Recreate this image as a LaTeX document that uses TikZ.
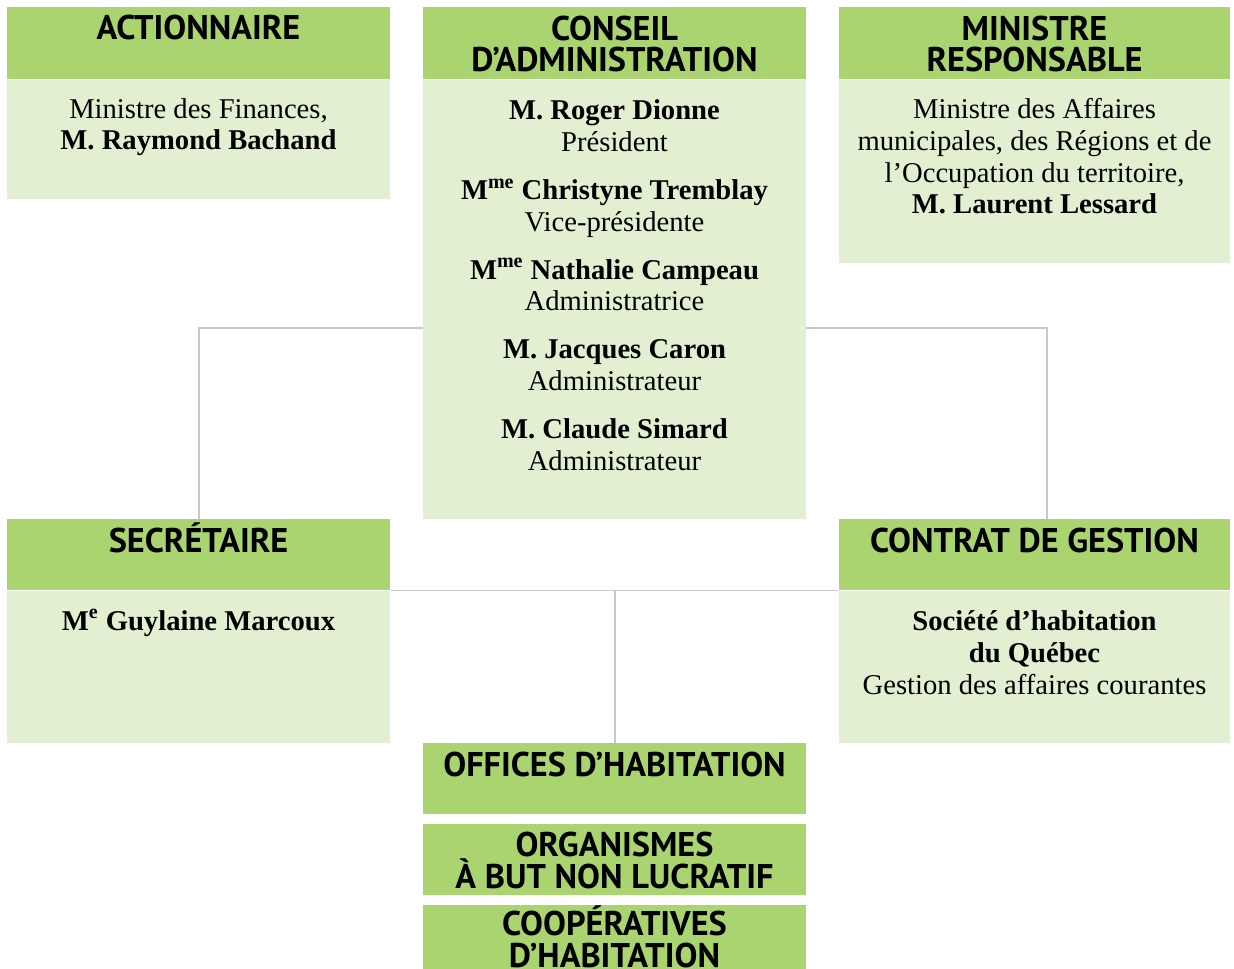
\documentclass[tikz,border=0pt]{standalone}
\usepackage{fontspec}
\setmainfont{Liberation Serif}
\newfontfamily\headfont{PT Sans}
\usetikzlibrary{positioning}
\definecolor{headgreen}{HTML}{AAD470}
\definecolor{bodygreen}{HTML}{E2F0D1}
\definecolor{linkgray}{HTML}{C8C8C8}

\begin{document}
\begin{tikzpicture}[x=0.02cm,y=-0.02cm, head/.style={rectangle,fill=headgreen,inner sep=0,anchor=north west,minimum width=7.66cm,minimum height=1.44cm}, body/.style={rectangle,fill=bodygreen,inner sep=0,minimum width=7.66cm}, title/.style={anchor=base,align=center,inner sep=0,font=\headfont\bfseries\fontsize{19.5}{18.1}\selectfont}, names/.style={anchor=base,align=center,inner sep=0,font=\fontsize{16.3}{18.1}\selectfont}, link/.style={draw=linkgray,line width=0.8pt}]
  \useasboundingbox (0,0) rectangle (1234,969);
  \node (act-h) [head] at (7,7) {};
  \node (act-b) [body,below=0pt of act-h,minimum height=2.38cm] {};
  \node (con-h) [head] at (423,7) {};
  \node (con-b) [body,below=0pt of con-h,minimum height=8.78cm] {};
  \node (min-h) [head,minimum width=7.82cm] at (839,7) {};
  \node (min-b) [body,below=0pt of min-h,minimum width=7.82cm,minimum height=3.66cm] {};
  \node (sec-h) [head,minimum height=1.42cm] at (7,519) {};
  \node (sec-b) [body,below=0pt of sec-h,minimum height=3.04cm] {};
  \node (ctr-h) [head,minimum width=7.82cm,minimum height=1.42cm] at (839,519) {};
  \node (ctr-b) [body,below=0pt of ctr-h,minimum width=7.82cm,minimum height=3.04cm] {};
  \node (off) [head,minimum height=1.42cm] at (423,743) {};
  \node (org) [head,anchor=north,minimum height=1.42cm,below=0.18cm of off] {};
  \node (coop) [head,anchor=north,minimum height=1.32cm,below=0.18cm of org] {};
  \coordinate (jl) at (423,328);
  \coordinate (jr) at (806,328);
  \coordinate (ctr-top) at (1047,519);
  \draw[link] (jl) -| (sec-h.north);
  \draw[link] (jr) -| (ctr-top);
  \draw[link] (sec-b.north east) -- (ctr-b.north west);
  \draw[link] (off.north |- sec-b.north) -- (off.north);
  % anchor=base sits on the last line
  \node (act-t) [title] at (198.5,40) {ACTIONNAIRE};
  \node (con-t) [title] at (614.5,72) {CONSEIL\\D’ADMINISTRATION};
  \node (min-t) [title] at (1034.5,72) {MINISTRE\\RESPONSABLE};
  \node (sec-t) [title] at (198.5,552) {SECRÉTAIRE};
  \node (ctr-t) [title] at (1034.5,552) {CONTRAT DE GESTION};
  \node (off-t) [title] at (614.5,776) {OFFICES D’HABITATION};
  \node (org-t) [title] at (614.5,888) {ORGANISMES\\À BUT NON LUCRATIF};
  \node (coop-t) [title] at (614.5,967) {COOPÉRATIVES\\D’HABITATION};
  \node (act-n) [names] at (198.5,150) {Ministre des Finances,\\\textbf{M. Raymond Bachand}};
  \node (con-n) [names] at (614.5,470) {\textbf{M. Roger Dionne}\\Président\\[0.32cm]
    \textbf{M\textsuperscript{me} Christyne Tremblay}\\Vice-présidente\\[0.32cm]
    \textbf{M\textsuperscript{me} Nathalie Campeau}\\Administratrice\\[0.32cm]
    \textbf{M. Jacques Caron}\\Administrateur\\[0.32cm]
    \textbf{M. Claude Simard}\\Administrateur};
  \node (min-n) [names] at (1034.5,214) {Ministre des Affaires\\municipales, des Régions et de\\l’Occupation du territoire,\\\textbf{M. Laurent Lessard}};
  \node (sec-n) [names] at (198.5,630) {\textbf{M\textsuperscript{e} Guylaine Marcoux}};
  \node (ctr-n) [names] at (1034.5,694) {\textbf{Société d’habitation}\\\textbf{du Québec}\\Gestion des affaires courantes};
\end{tikzpicture}
\end{document}
